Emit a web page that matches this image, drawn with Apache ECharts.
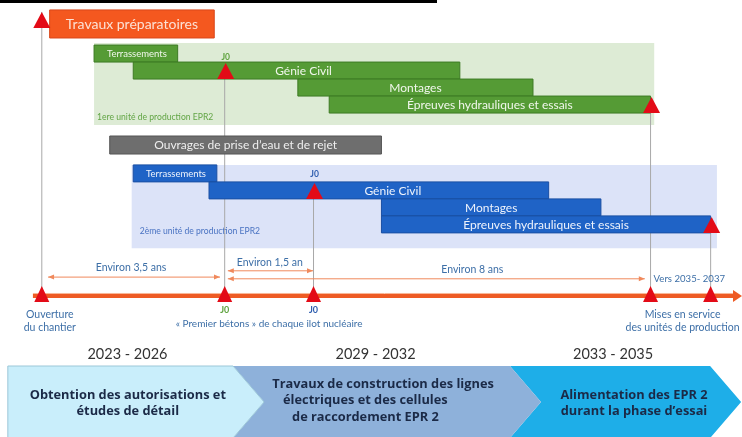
<!DOCTYPE html>
<html><head><meta charset="utf-8">
<script src="https://cdn.jsdelivr.net/npm/echarts@6/dist/echarts.min.js"></script>
<style>html,body{margin:0;padding:0;background:#fff}#c{width:742px;height:437px}</style>
</head><body><div id="c"></div>
<script>
// ===== DATA (x = years after the opening of the site) =====
const taskNames = ['Travaux préparatoires','Terrassements','Génie Civil','Montages','Épreuves hydrauliques et essais','Ouvrages de prise d’eau et de rejet','Terrassements','Génie Civil','Montages','Épreuves hydrauliques et essais'];
const taskStart = [0.15, 1.0, 1.75, 4.9, 5.5, 1.3, 1.75, 3.2, 6.5, 6.5];
const taskEnd   = [3.3, 2.6, 8.0, 9.4, 11.65, 6.5, 3.35, 9.7, 10.7, 12.8];
const taskGroup = ['prep','u1','u1','u1','u1','water','u2','u2','u2','u2'];
const unitNames = ['1ere unité de production EPR2','2ème unité de production EPR2'];
const unitStart = [1.0, 1.72];
const unitEnd   = [11.72, 12.92];
const milestoneYears = [0, 3.5, 5.2, 11.65, 12.8];
const durationLabels = ['Environ 3,5 ans','Environ 1,5 an','Environ 8 ans'];
const durationFrom = [0.12, 3.56, 3.56];
const durationTo   = [3.41, 5.19, 11.54];
const phaseYears = ['2023 - 2026','2029 - 2032','2033 - 2035'];
const phaseLines = [
  ['Obtention des autorisations et','études de détail'],
  ['Travaux de construction des lignes','électriques et des cellules','de raccordement EPR 2'],
  ['Alimentation des EPR 2','durant la phase d’essai']
];
const phaseEdges = [-0.65, 3.66, 8.96, 12.79];
const timelineSpan = [-0.17, 13.4];

// ===== LAYOUT / STYLE (lane units, 1 lane = one bar row) =====
const taskLane   = [1.41, 3.15, 4.15, 5.15, 6.15, 8.53, 10.2, 11.2, 12.2, 13.2];
const taskHeight = [1.65, 1, 1, 1, 1, 1.06, 1, 1, 1, 1];
const taskTextDx = [0, 1, 7, 0, 0, 0, 1, 14, 0, 0];
const groupStyle = {
  prep:  {fill:'#F4581F', stroke:'#D9471A', text:'#FCE1D5', font:'14px Lato'},
  u1:    {fill:'#559B35', stroke:'#3D7A24', text:'#F1F7EC', font:'12px Lato'},
  water: {fill:'#6E6E6E', stroke:'#555555', text:'#EEEEEE', font:'12px Lato'},
  u2:    {fill:'#1F63C6', stroke:'#1A4FA3', text:'#EEF3FC', font:'12px Lato'}
};
const unitLaneTop = [2.53, 9.7], unitLaneBottom = [7.35, 14.6];
const unitFill = ['#DDEBD5', '#DCE3F8'];
const unitLabelColor = ['#62A545', '#4A73C2'];
const unitLabelLane = [6.9, 13.6];
const unitLabelDx = [3, 8];
const timelineLane = 17.41;

const chart = echarts.init(document.getElementById('c'), null, {renderer:'canvas'});
const blueText = '#3D6FA7';

function tri(cx, cy, w, h) {
  return {type:'polygon', shape:{points:[[cx, cy-h/2],[cx-w/2, cy+h/2],[cx+w/2, cy+h/2]]}, style:{fill:'#E30B17'}};
}

const option = {
  animation:false,
  grid:{left:0,right:0,top:0,bottom:0},
  xAxis:{type:'value', min:-0.8, max:13.4, show:false},
  yAxis:{type:'value', min:0, max:437/17, inverse:true, show:false},
  graphic:[{type:'rect', shape:{x:0,y:0,width:437,height:3}, style:{fill:'#000'}}],
  series:[
    // unit panels
    {type:'custom', silent:true, z:1, data:unitNames.map((n,i)=>[unitStart[i],unitEnd[i],i]),
     renderItem:(p,api)=>{
       const i=api.value(2);
       const a=api.coord([api.value(0), unitLaneTop[i]]), b=api.coord([api.value(1), unitLaneBottom[i]]);
       return {type:'group', children:[
         {type:'rect', shape:{x:a[0],y:a[1],width:b[0]-a[0],height:b[1]-a[1]}, style:{fill:unitFill[i]}},
         {type:'text', style:{x:a[0]+unitLabelDx[i], y:api.coord([0,unitLabelLane[i]])[1], text:unitNames[i], fill:unitLabelColor[i], font:'8.6px Lato', verticalAlign:'middle'}}
       ]};
     }},
    // vertical guide lines
    {type:'custom', silent:true, z:2, data:milestoneYears.map((m,i)=>[m,i]),
     renderItem:(p,api)=>{
       const tops=[0.7, 3.82, 11.7, 6.65, 13.7];
       const i=api.value(1);
       const a=api.coord([api.value(0), tops[i]]), b=api.coord([api.value(0), 17.06]);
       return {type:'line', shape:{x1:a[0],y1:a[1],x2:b[0],y2:b[1]}, style:{stroke:'#A8A8A8', lineWidth:1}};
     }},
    // task bars
    {type:'custom', silent:true, z:3, data:taskNames.map((n,i)=>[taskStart[i],taskEnd[i],i]),
     renderItem:(p,api)=>{
       const i=api.value(2), st=groupStyle[taskGroup[i]];
       const a=api.coord([api.value(0), taskLane[i]-taskHeight[i]/2]), b=api.coord([api.value(1), taskLane[i]+taskHeight[i]/2]);
       return {type:'group', children:[
         {type:'rect', shape:{x:a[0],y:a[1],width:b[0]-a[0],height:b[1]-a[1]}, style:{fill:st.fill, stroke:st.stroke, lineWidth:1}},
         {type:'text', style:{x:(a[0]+b[0])/2+taskTextDx[i], y:(a[1]+b[1])/2+0.5, text:taskNames[i], fill:st.text, font:(taskNames[i]==='Terrassements'?'9.5px Lato':st.font), align:'center', verticalAlign:'middle'}}
       ]};
     }},
    // milestone triangles on bars + labels
    {type:'custom', silent:true, z:4, data:milestoneYears.map((m,i)=>[m,i]),
     renderItem:(p,api)=>{
       const lanes=[1.18, 4.18, 11.24, 6.18, 13.24];
       const i=api.value(1);
       const c=api.coord([api.value(0), lanes[i]]);
       const t=api.coord([api.value(0), timelineLane]);
       const ch=[tri(c[0]+(i===0?0:1), c[1], 17, 16), tri(t[0], t[1]-2, 15, 16)];
       if(i===1) ch.push({type:'text', style:{x:c[0]+1,y:c[1]-14,text:'J0',fill:'#5FA33F',font:'bold 8.5px Lato',align:'center',verticalAlign:'middle'}});
       if(i===2) ch.push({type:'text', style:{x:c[0]+1,y:c[1]-17,text:'J0',fill:'#2F5EAF',font:'bold 8.5px Lato',align:'center',verticalAlign:'middle'}});
       if(i===1) ch.push({type:'text', style:{x:t[0],y:t[1]+14,text:'J0',fill:'#5FA33F',font:'bold 9px Lato',align:'center',verticalAlign:'middle'}});
       if(i===2) ch.push({type:'text', style:{x:t[0],y:t[1]+14,text:'J0',fill:'#2F5EAF',font:'bold 9px Lato',align:'center',verticalAlign:'middle'}});
       if(i===0) ch.push({type:'text', style:{x:t[0]+8,y:t[1]+25,text:'Ouverture\ndu chantier',fill:blueText,font:'10.5px Lato',lineHeight:13,align:'center',verticalAlign:'middle'}});
       return {type:'group', children:ch};
     }},
    // timeline axis line
    {type:'custom', silent:true, z:3, data:[[timelineSpan[0], timelineSpan[1]]],
     renderItem:(p,api)=>{
       const a=api.coord([api.value(0), timelineLane]), b=api.coord([api.value(1), timelineLane]);
       return {type:'group', children:[
         {type:'line', shape:{x1:a[0],y1:a[1],x2:b[0]-6,y2:b[1]}, style:{stroke:'#EE5B24', lineWidth:4}},
         {type:'line', shape:{x1:a[0],y1:a[1]-2.5,x2:b[0]-6,y2:b[1]-2.5}, style:{stroke:'#F8B596', lineWidth:1}},
         {type:'polygon', shape:{points:[[b[0]-9,b[1]-6],[b[0],b[1]],[b[0]-9,b[1]+6]]}, style:{fill:'#EE5B24'}}
       ]};
     }},
    // joint labels of milestones
    {type:'custom', silent:true, z:4, data:[[milestoneYears[1], milestoneYears[2], milestoneYears[3], milestoneYears[4]]],
     renderItem:(p,api)=>{
       const j1=api.coord([api.value(0), timelineLane]), j2=api.coord([api.value(1), timelineLane]);
       const m1=api.coord([api.value(2), timelineLane]), m2=api.coord([api.value(3), timelineLane]);
       return {type:'group', children:[
         {type:'text', style:{x:(j1[0]+j2[0])/2, y:j1[1]+28, text:'« Premier bétons » de chaque ilot nucléaire', fill:blueText, font:'10px Lato', align:'center', verticalAlign:'middle'}},
         {type:'text', style:{x:(m1[0]+m2[0])/2+2, y:m1[1]+25, text:'Mises en service\ndes unités de production', fill:blueText, font:'10.5px Lato', lineHeight:13, align:'center', verticalAlign:'middle'}},
         {type:'text', style:{x:m1[0]+3, y:m1[1]-17, text:'Vers 2035- 2037', fill:blueText, font:'9.6px Lato', align:'left', verticalAlign:'middle'}}
       ]};
     }},
    // duration arrows
    {type:'custom', silent:true, z:4, data:durationLabels.map((l,i)=>[durationFrom[i],durationTo[i],i]),
     renderItem:(p,api)=>{
       const lanes=[16.3, 15.93, 16.4], textLanes=[15.75, 15.45, 15.88];
       const i=api.value(2);
       const a=api.coord([api.value(0), lanes[i]]), b=api.coord([api.value(1), lanes[i]]);
       const col='#F0895C';
       const ch=[
         {type:'line', shape:{x1:a[0],y1:a[1],x2:b[0],y2:b[1]}, style:{stroke:col,lineWidth:1}},
         {type:'polygon', shape:{points:[[b[0],b[1]],[b[0]-6,b[1]-2.5],[b[0]-6,b[1]+2.5]]}, style:{fill:col}},
         {type:'polygon', shape:{points:[[a[0],a[1]],[a[0]+6,a[1]-2.5],[a[0]+6,a[1]+2.5]]}, style:{fill:col}}
       ];
       const tx = i===1 ? a[0]+42 : (i===2 ? (a[0]+b[0])/2+36 : (a[0]+b[0])/2-3);
       ch.push({type:'text', style:{x:tx, y:api.coord([0,textLanes[i]])[1], text:durationLabels[i], fill:blueText, font:'10.5px Lato', align:'center', verticalAlign:'middle'}});
       return {type:'group', children:ch};
     }},
    // phase chevrons (bottom band)
    {type:'custom', silent:true, z:5, data:phaseYears.map((y,i)=>[phaseEdges[i],phaseEdges[i+1],i]),
     renderItem:(p,api)=>{
       const i=api.value(2);
       const fills=['#C9EEFB','#8EB1DA','#1EAEE8'];
       const a=api.coord([api.value(0), 366/17]), b=api.coord([api.value(1), 437/17]);
       const d=31, top=a[1], bot=b[1]+1, mid=(top+bot)/2;
       let pts;
       if(i===0) pts=[[a[0],top],[b[0],top],[b[0]+d,mid],[b[0],bot],[a[0],bot]];
       else pts=[[a[0],top],[b[0],top],[b[0]+d,mid],[b[0],bot],[a[0],bot],[a[0]+d,mid]];
       const ch=[{type:'polygon', z2:3-i, shape:{points:pts}, style:{fill:fills[i], stroke:i===0?'#9CC7D8':null, lineWidth:1}}];
       ch.push({type:'text', style:{x:(a[0]+b[0])/2+(i===0?7:(i===1?4:3)), y:354, text:phaseYears[i], fill:'#333333', font:'14.5px Lato', align:'center', verticalAlign:'middle'}});
       const lines=phaseLines[i];
       const lh = 16.5;
       const startY = i===1 ? 384 : 395;
       lines.forEach((t,k)=>{
         let x, al='center';
         if(i===0) x=a[0]+120;
         else if(i===1){ const off=[150,50,59]; x = a[0]+off[k]; al = k===0?'center':'left'; }
         else x=a[0]+124;
         ch.push({type:'text', z2:10, style:{x:x, y:startY+k*lh, text:t, fill:'#1B2A47', font:'bold 12.8px "Open Sans"', align:al, verticalAlign:'middle'}});
       });
       return {type:'group', children:ch};
     }}
  ]
};
chart.setOption(option);
</script></body></html>
